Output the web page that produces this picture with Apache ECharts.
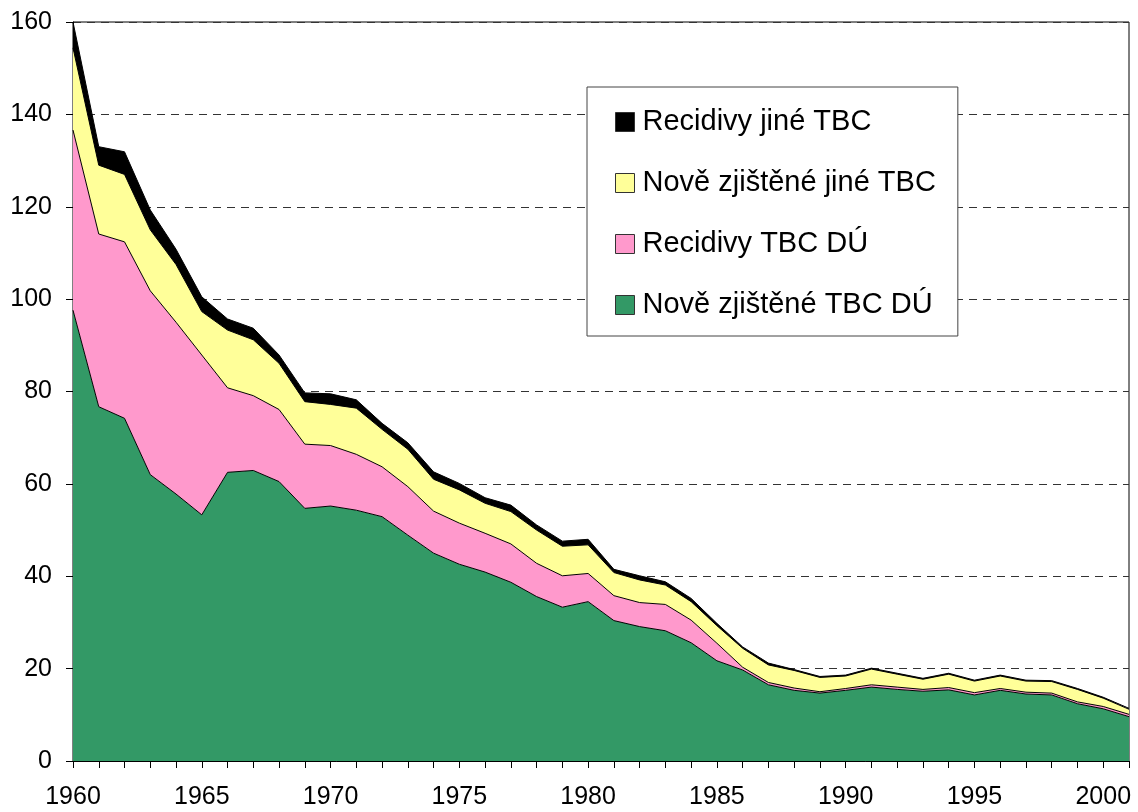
<!DOCTYPE html>
<html>
<head>
<meta charset="utf-8">
<script src="https://cdn.jsdelivr.net/npm/echarts@6/dist/echarts.min.js"></script>
<style>
html,body{margin:0;padding:0;background:#fff;}
#chart{width:1138px;height:812px;}
</style>
</head>
<body>
<div id="chart"></div>
<script>
const years = ['1960','1961','1962','1963','1964','1965','1966','1967','1968','1969','1970','1971','1972','1973','1974','1975','1976','1977','1978','1979','1980','1981','1982','1983','1984','1985','1986','1987','1988','1989','1990','1991','1992','1993','1994','1995','1996','1997','1998','1999','2000','2001'];

const noveTbcDu = [97.6,76.7,74.2,62.0,57.8,53.3,62.5,62.9,60.5,54.7,55.2,54.3,52.9,48.9,45.0,42.6,40.9,38.7,35.6,33.3,34.5,30.4,29.1,28.2,25.6,21.7,19.7,16.5,15.3,14.7,15.3,16.0,15.5,15.1,15.4,14.3,15.3,14.5,14.3,12.4,11.3,9.6];
const recidivyTbcDu = [39.0,37.4,38.2,39.8,37.2,34.6,18.3,16.2,15.6,13.9,13.1,12.1,10.8,10.5,9.1,8.9,8.4,8.3,7.2,6.8,6.1,5.4,5.2,5.7,4.9,3.8,0.6,0.5,0.5,0.3,0.4,0.5,0.5,0.4,0.5,0.5,0.4,0.4,0.4,0.4,0.5,0.5];
const noveJine = [17.8,14.9,14.6,13.2,12.5,9.4,12.5,12.1,10.0,9.2,8.9,10.0,8.1,8.1,6.9,7.2,6.5,7.0,7.2,6.4,6.2,5.0,4.9,4.2,4.0,3.8,4.1,3.8,3.8,3.1,2.7,3.4,2.8,2.2,2.9,2.5,2.7,2.4,2.5,2.7,1.8,1.1];
const recidivyJine = [5.6,4.0,4.9,4.3,3.3,3.2,2.4,2.5,1.8,1.9,2.3,1.8,1.3,1.4,1.6,1.4,1.2,1.4,1.1,1.1,1.2,0.7,0.9,0.7,0.7,0.5,0.3,0.4,0.2,0.2,0.2,0.2,0.2,0.2,0.2,0.2,0.2,0.2,0.2,0.2,0.2,0.2];

const names = ['Nově zjištěné TBC DÚ','Recidivy TBC DÚ','Nově zjištěné jiné TBC','Recidivy jiné TBC'];
const colors = ['#339966','#FF99CC','#FFFF99','#000000'];
const datasets = [noveTbcDu, recidivyTbcDu, noveJine, recidivyJine];

const FONT = '"Liberation Sans", Arial, sans-serif';

const chart = echarts.init(document.getElementById('chart'), null, {renderer:'canvas'});

const series = names.map((n,i)=>({
  name:n,
  type:'line',
  stack:'total',
  data:datasets[i],
  symbol:'none',
  smooth:false,
  lineStyle:{color:'#000',width:1},
  itemStyle:{color:colors[i],borderColor:'#333',borderWidth:1},
  areaStyle:{color:colors[i],opacity:1},
  emphasis:{disabled:true},
  animation:false
}));

chart.setOption({
  animation:false,
  backgroundColor:'#fff',
  grid:{left:73,right:9,top:22,bottom:51,show:true,borderColor:'#000',borderWidth:1,backgroundColor:'transparent'},
  legend:{
    orient:'vertical',
    left:587,
    top:87,
    data:[names[3],names[2],names[1],names[0]],
    backgroundColor:'#fff',
    borderColor:'#444',
    borderWidth:1,
    padding:[20,22,16,28],
    itemGap:31,
    itemWidth:19,
    itemHeight:19,
    itemStyle:{borderColor:'#333',borderWidth:1},
    icon:'rect',
    textStyle:{fontFamily:FONT,fontSize:29,color:'#000',lineHeight:30,padding:[0,0,0,3]},
    selectedMode:false
  },
  xAxis:{
    type:'category',
    data:years,
    boundaryGap:false,
    axisLine:{lineStyle:{color:'#000',width:1}},
    axisTick:{show:true,interval:0,length:7,inside:false,lineStyle:{color:'#000'}},
    axisLabel:{interval:4,fontFamily:FONT,fontSize:25,color:'#000',margin:24},
    splitLine:{show:false}
  },
  yAxis:{
    type:'value',
    min:0,max:160,interval:20,
    axisLine:{show:true,lineStyle:{color:'#000',width:1}},
    axisTick:{show:true,length:7,lineStyle:{color:'#000'}},
    axisLabel:{fontFamily:FONT,fontSize:25,color:'#000',margin:21},
    splitLine:{show:true,lineStyle:{color:'#333',width:1,type:[8,6]}}
  },
  series:series
});
</script>
</body>
</html>
